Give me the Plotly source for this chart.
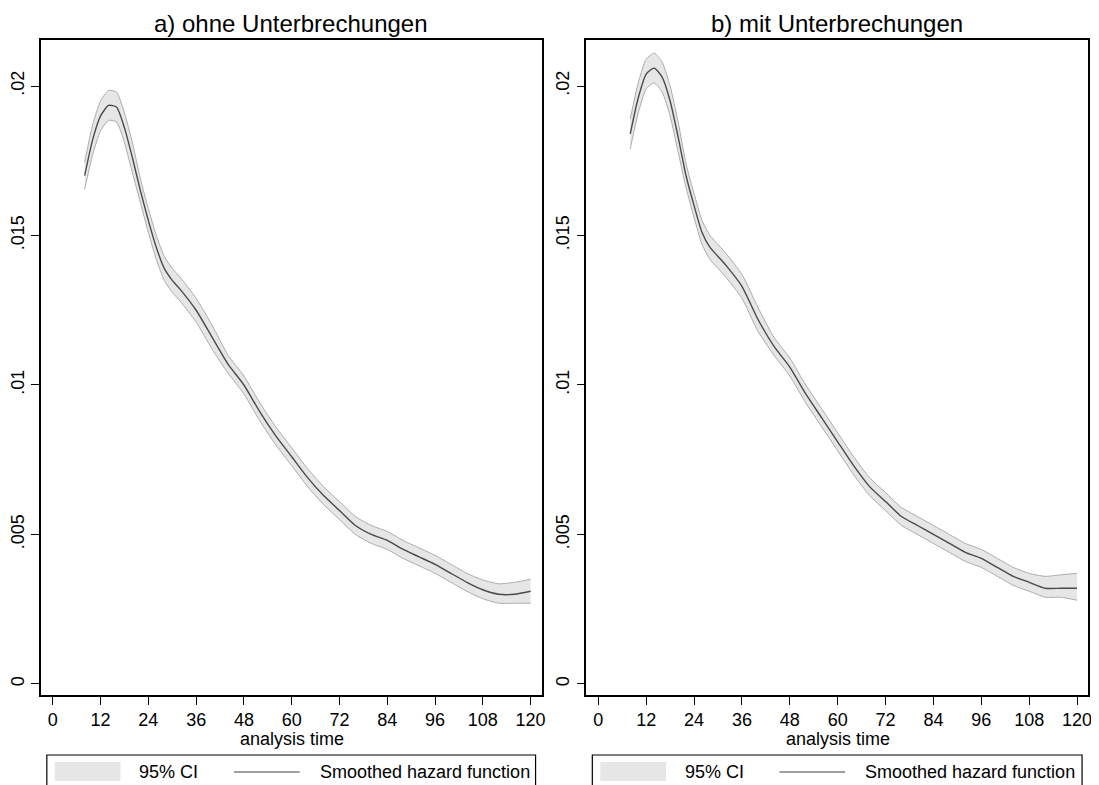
import plotly.graph_objects as go

# Zeitpunkte (Monate) und geglaettete Hazardfunktion mit 95%-KI
time = [8, 10, 12, 14, 16, 18, 20, 22, 24, 26, 28, 30, 32, 36, 40, 44, 48, 52,
        56, 60, 64, 68, 72, 76, 80, 84, 88, 92, 96, 100, 104, 108, 112, 116, 120]

# a) ohne Unterbrechungen
hazard_a = [.0170, .0182, .0190, .01935, .0193, .0186, .0176, .0165, .0155, .0146,
            .0139, .0135, .0132, .0125, .0116, .0107, .0100, .0091, .0083, .0076,
            .0069, .0063, .0058, .0053, .0050, .0048, .0045, .00425, .0040, .0037,
            .0034, .00315, .0030, .0030, .0031]
lower_a = [.01655, .0177, .0185, .01885, .0188, .0181, .0171, .0161, .0151, .0142,
           .0135, .0131, .0128, .0121, .0112, .0104, .0097, .0088, .0080, .0073,
           .0066, .0060, .0055, .0050, .0047, .0045, .0042, .00395, .0037, .0034,
           .0031, .00285, .0027, .0027, .0027]
upper_a = [.01745, .0187, .0195, .01985, .0198, .0191, .0181, .0169, .0159, .0150,
           .0143, .0139, .0136, .0129, .0120, .0110, .0103, .0094, .0086, .0079,
           .0072, .0066, .0061, .0056, .0053, .0051, .0048, .00455, .0043, .0040,
           .0037, .00348, .00335, .0034, .0035]

# b) mit Unterbrechungen
hazard_b = [.0184, .0196, .0204, .0206, .0203, .0195, .0183, .0170, .0160, .0151,
            .0146, .0143, .0140, .0133, .0122, .0113, .0106, .0097, .0089, .0081,
            .0073, .0066, .0061, .0056, .0053, .0050, .0047, .0044, .0042, .0039,
            .0036, .0034, .0032, .0032, .0032]
lower_b = [.0179, .0191, .0199, .0201, .0198, .0190, .0178, .0166, .0156, .0147,
           .0142, .0139, .0136, .0129, .0118, .0110, .0103, .0094, .0086, .0078,
           .0070, .0063, .0058, .0053, .0050, .0047, .0044, .0041, .0039, .0036,
           .0033, .0031, .0029, .0029, .0028]
upper_b = [.0189, .0201, .0209, .0211, .0208, .0200, .0188, .0174, .0164, .0155,
           .0150, .0147, .0144, .0137, .0126, .0116, .0109, .0100, .0092, .0084,
           .0076, .0069, .0064, .0059, .0056, .0053, .0050, .0047, .0045, .0042,
           .0039, .0037, .0036, .00365, .0037]

titles = ["a) ohne Unterbrechungen", "b) mit Unterbrechungen"]
x_ticks = [0, 12, 24, 36, 48, 60, 72, 84, 96, 108, 120]
y_ticks = [0, .005, .01, .015, .02]
y_ticktext = ["0", ".005", ".01", ".015", ".02"]
legend_labels = ["95% CI", "Smoothed hazard function"]
x_title = "analysis time"

# Seite hat 8px Rand, daher Figur kleiner und alles um 8px verschoben
OFF = 8
W, H = 1099 - OFF, 785 - OFF
FONT = "Liberation Sans, Arial, sans-serif"
CI_FILL = "#e6e6e6"
CI_LINE = "#ababab"
HAZ_LINE = "#4a4a4a"


def px(x):
    return (x - OFF) / W


def py(y):
    return (785 - y) / H


panels = [
    dict(hazard=hazard_a, lower=lower_a, upper=upper_a, frame=(40, 543)),
    dict(hazard=hazard_b, lower=lower_b, upper=upper_b, frame=(588, 1092)),
]

fig = go.Figure()
y_dom = [py(695), py(40)]

for i, p in enumerate(panels):
    n = "" if i == 0 else str(i + 1)
    xa, ya = "x" + n, "y" + n
    fig.add_trace(go.Scatter(x=time, y=p["upper"], mode="lines", xaxis=xa, yaxis=ya,
                             line=dict(color=CI_LINE, width=1, shape="spline", smoothing=0.6),
                             showlegend=False, hoverinfo="skip"))
    fig.add_trace(go.Scatter(x=time, y=p["lower"], mode="lines", xaxis=xa, yaxis=ya,
                             fill="tonexty", fillcolor=CI_FILL,
                             line=dict(color=CI_LINE, width=1, shape="spline", smoothing=0.6),
                             showlegend=False, hoverinfo="skip"))
    fig.add_trace(go.Scatter(x=time, y=p["hazard"], mode="lines", xaxis=xa, yaxis=ya,
                             line=dict(color=HAZ_LINE, width=1.4, shape="spline", smoothing=0.6),
                             showlegend=False))

    x0, x1 = p["frame"]
    axis_common = dict(showline=True, linecolor="black", linewidth=1.5, mirror=True,
                       ticks="outside", ticklen=8, tickwidth=1, tickcolor="black",
                       showgrid=False, zeroline=False,
                       tickfont=dict(family=FONT, size=18, color="black"))
    fig.layout["xaxis" + n] = dict(
        axis_common, domain=[px(x0), px(x1)], range=[-3, 122.75], anchor=ya,
        tickvals=x_ticks)
    fig.layout["yaxis" + n] = dict(
        axis_common, domain=y_dom, range=[-0.00037, 0.02154], anchor=xa,
        tickvals=y_ticks, ticktext=y_ticktext, tickangle=-90)

    # Achsentitel unter den Tick-Labels, mittig zu den Ticks 0..120
    fig.add_annotation(text=x_title, xref=xa, yref="paper", x=60, y=py(739),
                       showarrow=False, xanchor="center", yanchor="middle",
                       font=dict(family=FONT, size=18, color="black"))

    # Titel
    fig.add_annotation(text=titles[i], xref="paper", yref="paper",
                       x=px((x0 + x1) / 2), y=py(24), showarrow=False,
                       xanchor="center", yanchor="middle",
                       font=dict(family=FONT, size=24, color="black"))

    # Legende im Stata-Stil
    lx0, lx1 = x0 + 6, x1 - 6
    fig.add_shape(type="rect", xref="paper", yref="paper",
                  x0=px(lx0), x1=px(lx1), y0=py(755), y1=py(800),
                  line=dict(color="black", width=1.2), fillcolor="white")
    fig.add_shape(type="rect", xref="paper", yref="paper",
                  x0=px(lx0 + 8), x1=px(lx0 + 74), y0=py(781), y1=py(762),
                  line=dict(width=0), fillcolor=CI_FILL)
    fig.add_shape(type="line", xref="paper", yref="paper",
                  x0=px(lx0 + 188), x1=px(lx0 + 254), y0=py(772), y1=py(772),
                  line=dict(color="#808080", width=1.4))
    fig.add_annotation(text=legend_labels[0], xref="paper", yref="paper",
                       x=px(lx0 + 91), y=py(772), showarrow=False,
                       xanchor="left", yanchor="middle",
                       font=dict(family=FONT, size=18, color="black"))
    fig.add_annotation(text=legend_labels[1], xref="paper", yref="paper",
                       x=px(lx0 + 272), y=py(772), showarrow=False,
                       xanchor="left", yanchor="middle",
                       font=dict(family=FONT, size=18, color="black"))

fig.update_layout(width=W, height=H, margin=dict(l=0, r=0, t=0, b=0),
                  paper_bgcolor="white", plot_bgcolor="white", showlegend=False)

fig.write_html("out.html")
